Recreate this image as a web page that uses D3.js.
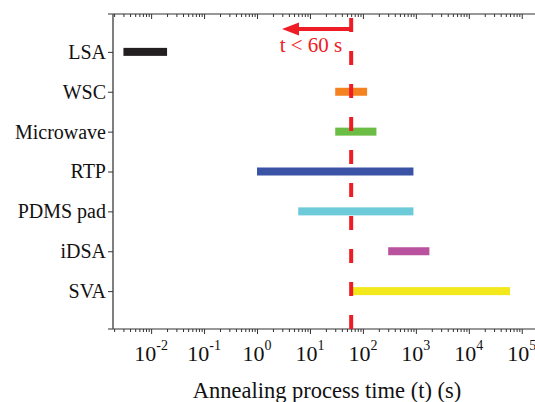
<!DOCTYPE html>
<html>
<head>
<meta charset="utf-8">
<script src="https://cdnjs.cloudflare.com/ajax/libs/d3/7.8.5/d3.min.js"></script>
<style>
	body { margin: 0; background: #fff; }
	svg { position: absolute; top: 0; left: 0; font-family: "Liberation Serif", "Times New Roman", serif; }
	.axis path, .axis line { stroke: #333; }
</style>
</head>
<body>
<svg width="535" height="402"></svg>
<script>
// data
var methods = ["LSA", "WSC", "Microwave", "RTP", "PDMS pad", "iDSA", "SVA"];
var tStart = [0.003, 30, 30, 1, 6, 300, 60];
var tEnd = [0.02, 120, 180, 900, 900, 1800, 60000];
var barColors = ["#231f20", "#f58220", "#6cbd45", "#3a53a4", "#6dcbd9", "#b9529f", "#f2e81b"];
var decades = [-2, -1, 0, 1, 2, 3, 4, 5];
var limit = 60;
var limitLabel = "t < 60 s";

var svg = d3.select("svg"),
	x0 = 113, x1 = 535, yTop = 14, yBot = 329;

var x = d3.scaleLog().domain([Math.pow(10, -2.72), Math.pow(10, 5.25)]).range([x0, x1]);
var y = d3.scalePoint().domain(methods).range([yTop, yBot]).padding(0.95);

var majors = decades.map(function(d) { return Math.pow(10, d); });
var minors = [];
for (var e = -3; e <= 5; e++) {
	for (var m = 2; m <= 9; m++) {
		var v = m * Math.pow(10, e);
		if (v > x.domain()[0] && v < x.domain()[1]) minors.push(v);
	}
}

// frame lines
svg.append("line").attr("x1", x0 - 5).attr("x2", x1).attr("y1", yTop).attr("y2", yTop)
	.attr("stroke", "#333").attr("stroke-width", 1.2);
svg.append("line").attr("x1", x0 - 5).attr("x2", x1).attr("y1", yBot).attr("y2", yBot)
	.attr("stroke", "#333").attr("stroke-width", 1.2);
svg.append("line").attr("x1", x0).attr("x2", x0).attr("y1", yTop).attr("y2", yBot)
	.attr("stroke", "#555").attr("stroke-width", 1.5);

// top ticks (inward) and bottom ticks
[yTop, yBot].forEach(function(yy) {
	svg.append("g").attr("class", "axis").attr("transform", "translate(0," + yy + ")")
		.call(d3.axisBottom(x).tickValues(minors).tickSize(3).tickFormat(""))
		.call(function(g) { g.select(".domain").remove(); });
	svg.append("g").attr("class", "axis").attr("transform", "translate(0," + yy + ")")
		.call(d3.axisBottom(x).tickValues(majors).tickSize(5).tickFormat(""))
		.call(function(g) { g.select(".domain").remove(); });
});

// bottom labels 10^n
var lab = svg.append("g").selectAll("text").data(decades).join("text")
	.attr("x", function(d) { return x(Math.pow(10, d)); })
	.attr("y", 361)
	.attr("text-anchor", "middle")
	.attr("font-size", 22)
	.attr("fill", "#111");
lab.append("tspan").text("10");
lab.append("tspan").attr("dy", -11).attr("font-size", 14).text(function(d) { return d; });

// y axis
svg.append("g").attr("class", "axis").attr("transform", "translate(" + x0 + ",0)")
	.call(d3.axisLeft(y).tickSize(5).tickPadding(2))
	.call(function(g) {
		g.select(".domain").remove();
		g.selectAll("text").attr("font-size", 20).attr("fill", "#111")
			.attr("font-family", "Liberation Serif, serif");
	});

// bars
svg.append("g").selectAll("rect").data(methods).join("rect")
	.attr("x", function(d, i) { return x(tStart[i]); })
	.attr("width", function(d, i) { return x(tEnd[i]) - x(tStart[i]); })
	.attr("y", function(d) { return y(d) - 4; })
	.attr("height", 8)
	.attr("fill", function(d, i) { return barColors[i]; });

// 60 s limit
var red = "#ee1c25";
svg.append("line")
	.attr("x1", x(limit)).attr("x2", x(limit))
	.attr("y1", 18).attr("y2", yBot)
	.attr("stroke", red).attr("stroke-width", 4)
	.attr("stroke-dasharray", "14,19");

svg.append("line")
	.attr("x1", x(limit)).attr("x2", 296)
	.attr("y1", 29).attr("y2", 29)
	.attr("stroke", red).attr("stroke-width", 4);
svg.append("path")
	.attr("d", "M282,29 L299,22.5 L299,35.5 Z")
	.attr("fill", red);

svg.append("text")
	.attr("x", 311).attr("y", 52)
	.attr("text-anchor", "middle")
	.attr("font-size", 21)
	.attr("fill", red)
	.text(limitLabel);

svg.append("text")
	.attr("x", 327).attr("y", 398)
	.attr("text-anchor", "middle")
	.attr("font-size", 22.5)
	.attr("fill", "#111")
	.text("Annealing process time (t) (s)");
</script>
</body>
</html>
